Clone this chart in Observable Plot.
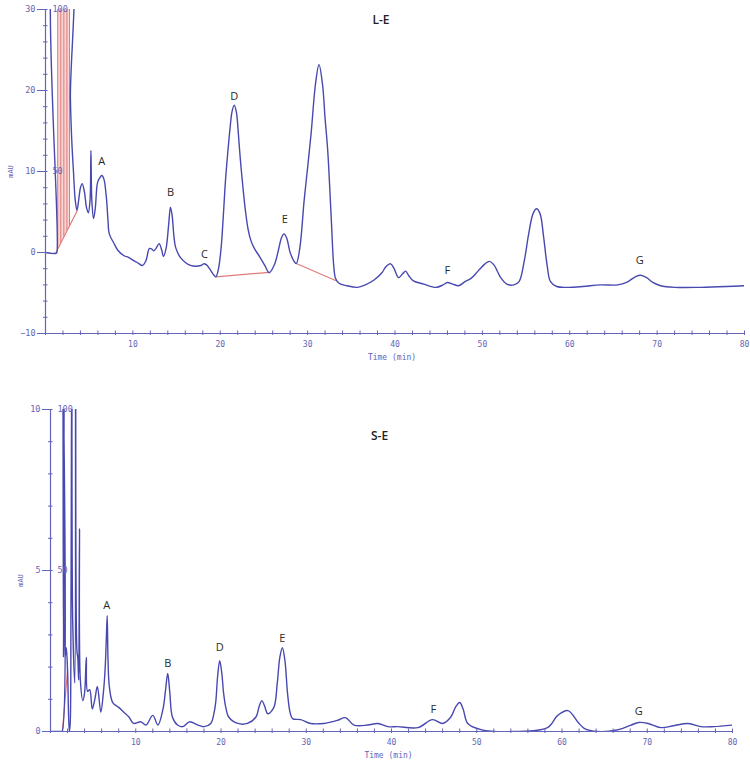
<!DOCTYPE html>
<html><head><meta charset="utf-8">
<script src="https://cdn.jsdelivr.net/npm/d3@7"></script>
<script src="https://cdn.jsdelivr.net/npm/@observablehq/plot@0.6"></script>
<style>body{margin:0;background:#fff}#c svg{display:block}</style>
</head><body><div id="c"></div>
<script>
// ---- L-E chromatogram (top) ----
const timeLE = [0,0.6,1.2,1.3,1.35,2.75,2.85,3.0,3.2,3.4,3.6,3.8,4.0,4.2,4.45,4.7,4.9,5.1,5.2,5.3,5.5,5.7,5.95,6.2,6.45,6.7,6.9,7.0,7.15,7.3,7.8,8.3,9.0,9.5,10.1,10.6,11.1,11.5,11.9,12.2,12.4,12.7,13.0,13.3,13.5,13.8,14.1,14.3,14.5,14.7,14.9,15.5,16.6,17.8,18.1,18.4,18.9,19.2,19.5,19.8,20.1,20.35,20.6,20.85,21.1,21.35,21.6,21.85,22.05,22.3,22.6,22.9,23.2,23.5,23.9,24.5,25.1,25.6,26.2,26.7,27.0,27.3,27.6,28.0,28.4,28.7,29.1,29.6,30.0,30.4,30.9,31.3,31.7,32.0,32.3,32.7,33.0,33.2,33.6,34.5,35.7,36.6,37.6,38.5,39.0,39.5,39.9,40.4,40.9,41.2,41.6,42.1,43.3,44.7,45.5,46.0,46.6,47.3,48.0,48.7,49.5,50.3,50.8,51.3,52.1,52.8,53.6,54.2,54.8,55.3,55.8,56.2,56.6,57.0,57.4,57.8,58.5,59.8,61.5,63.5,65.5,66.5,67.5,68.1,68.8,69.5,70.4,72,75,78,80];
const mauLE = [0,-0.1,-0.1,0,40,40,19,14,10,6.5,5.2,6.5,8,8.5,7.5,5.5,4.9,6.5,12.6,6.5,4.2,5.5,8.6,9.2,9.5,9.0,7.5,6.4,4,2.3,1.2,0.25,-0.4,-0.6,-1.0,-1.3,-1.6,-1.0,0.5,0.4,0.2,0.6,1.1,0.3,-0.5,0.5,3.5,5.6,4.5,2.0,0.6,-0.7,-1.6,-1.6,-1.4,-1.5,-2.2,-2.7,-3.0,-2.0,0.6,4.5,8.9,12.2,15.1,17.4,18.2,17.3,15.0,11.5,8.0,5.0,2.8,1.5,0.5,-0.5,-1.6,-2.5,-1.5,0.5,1.8,2.3,1.8,0,-1.0,-1.35,0.5,6.4,10.5,14.7,20.8,23.2,20.8,16.5,12.6,4.3,-1.8,-3.2,-3.8,-4.1,-4.3,-4.0,-3.4,-2.5,-1.7,-1.4,-2.0,-3.1,-2.6,-2.3,-2.9,-3.5,-3.9,-4.3,-4.0,-3.7,-3.9,-4.1,-3.6,-3.2,-2.3,-1.4,-1.1,-1.5,-3.1,-3.9,-4.0,-3.6,-1.0,2.3,4.8,5.4,4.8,2.0,-1.5,-3.6,-4.2,-4.3,-4.2,-4.0,-4.0,-3.7,-3.0,-2.8,-3.1,-3.7,-4.1,-4.3,-4.3,-4.2,-4.1];
const peakLE = ["A","B","C","D","E","F","G"];
const peakTimeLE = [6.45,14.3,18.2,21.6,27.4,46.0,68.0];
const peakMauLE = [11.2,7.4,-0.25,19.3,4.1,-2.2,-1.0];
// integration baselines [t1, v1, t2, v2]
const baseLE = [[1.2,0,3.6,5.1],[19.5,-3.0,25.6,-2.45],[28.7,-1.35,33.2,-3.45]];
const dropTimeLE = [1.4,1.75,2.1,2.45,2.75];

// ---- S-E chromatogram (bottom) ----
const timeSE = [0,1.2,1.35,1.45,1.52,1.6,1.7,1.85,2.0,2.2,2.3,2.4,2.5,2.6,2.85,2.95,3.1,3.2,3.3,3.4,3.5,3.8,4.0,4.2,4.35,4.6,4.9,5.2,5.5,5.9,6.2,6.4,6.55,6.65,6.75,6.9,7.3,8.0,8.6,9.2,9.75,10.6,11.2,12.0,12.6,13.2,13.5,13.75,14.0,14.3,14.9,15.5,16.3,17.3,18.0,18.8,19.2,19.4,19.6,19.85,20.1,20.3,20.6,20.9,21.96,23.1,24.1,24.5,24.8,25.1,25.5,26.2,26.6,26.9,27.2,27.5,27.8,28.1,28.4,29.35,30.5,32.05,33.7,34.6,35.6,37.2,38.4,39.6,40.7,43.1,44.8,46.0,46.96,47.5,48.0,48.4,48.95,50.5,54.4,58.3,59.5,60.7,61.9,62.6,64.2,66.6,68.1,69.0,70.1,71.6,73.1,74.8,76.3,77.8,80];
const mauSE = [0,0,0,12,2.3,12,2.3,2.6,1.9,0,0.2,3.8,12,3.5,1.5,12,2.5,2.3,1.6,6.3,1.6,0.96,1.2,2.3,1.25,1.3,0.7,1.0,1.4,0.6,1.2,1.9,2.9,3.6,2.2,1.4,0.9,0.75,0.6,0.45,0.25,0.3,0.2,0.5,0.2,0.7,1.3,1.8,1.2,0.45,0.2,0.15,0.3,0.2,0.15,0.25,0.6,0.96,1.7,2.2,1.8,1.2,0.7,0.45,0.25,0.25,0.45,0.8,0.96,0.8,0.55,0.75,1.5,2.3,2.6,2.2,1.2,0.6,0.4,0.37,0.25,0.25,0.35,0.43,0.2,0.2,0.25,0.15,0.15,0.12,0.37,0.25,0.45,0.75,0.9,0.7,0.25,0.06,0.0,0.12,0.5,0.65,0.28,0.1,0.0,0.06,0.2,0.28,0.25,0.12,0.18,0.25,0.15,0.15,0.2];
const peakSE = ["A","B","D","E","F","G"];
const peakTimeSE = [6.6,13.75,19.85,27.2,44.9,69.0];
const peakMauSE = [3.9,2.1,2.6,2.9,0.68,0.62];
const baseSE = [[1.4,0,2.0,1.9]];
const dropTimeSE = [];

const xMajor = [10,20,30,40,50,60,70,80];
const pctLabels = ["100","50"];
const pctValues = [100,50];

const lineColor = "#4848b0";
const axisColor = "#6464b8";
const redColor = "#e07a7a";
const mono = "DejaVu Sans Mono";

function panel(o) {
  const data = o.times.map((t,i)=>({t, v:o.values[i]}));
  const [y0,y1] = o.yDomain;
  const ph = o.height - o.mt - o.mb, pw = o.width - o.ml - o.mr;
  const uy = (y1-y0)/ph, ux = 80/pw;
  const xMinor = d3.range(0,80.01,2);
  const yMinor = d3.range(y0,y1+0.01,o.yMinorStep);
  const baseAt = t => { const b = o.bases[0]; return b[1] + (t-b[0])/(b[2]-b[0])*(b[3]-b[1]); };
  const marks = [];
  if (o.drops.length) {
    const fillData = d3.range(o.drops[0], o.drops[o.drops.length-1]+0.001, 0.05).map(t=>({t, lo: baseAt(t), hi: y1}));
    marks.push(Plot.areaY(fillData, {x:"t", y1:"lo", y2:"hi", fill:"#f4c4c4", fillOpacity:0.7}));
    marks.push(Plot.ruleX(o.drops, {x:d=>d, y1:d=>baseAt(d), y2:y1, stroke:redColor, strokeWidth:1}));
  }
  const segs = o.bases.flatMap((b,i)=>[{t:b[0],v:b[1],k:i},{t:b[2],v:b[3],k:i}]);
  marks.push(Plot.line(segs, {x:"t", y:"v", z:"k", stroke:redColor, strokeWidth:1.2}));
  marks.push(Plot.line(data, {x:"t", y:"v", stroke:lineColor, strokeWidth:1.4, curve:"catmull-rom", clip:true}));
  // axis lines
  marks.push(Plot.ruleX([0], {y1:y0, y2:y1, stroke:axisColor, strokeWidth:1.2}));
  marks.push(Plot.ruleY([y0], {x1:0, x2:80, stroke:axisColor, strokeWidth:1.2}));
  // minor ticks
  marks.push(Plot.ruleX(xMinor, {x:d=>d, y1:y0-2*uy, y2:y0+2.5*uy, stroke:axisColor}));
  marks.push(Plot.ruleY(yMinor, {y:d=>d, x1:-2*ux, x2:2.5*ux, stroke:axisColor}));
  marks.push(Plot.axisX({ticks:xMajor, label:null, tickSize:0, tickPadding:8, fontSize:8, fontFamily:mono, color:axisColor}));
  marks.push(Plot.axisY({ticks:o.yMajor, label:null, tickSize:8, tickPadding:2, fontSize:8.5, fontFamily:mono, color:axisColor}));
  // secondary percent labels
  marks.push(Plot.text(pctLabels, {x:0, y:(d,i)=>y0+pctValues[i]/100*(y1-y0), text:d=>d, dx:7, textAnchor:"start", fontSize:8.5, fontFamily:mono, fill:axisColor}));
  // axis titles
  marks.push(Plot.text(["Time (min)"], {frameAnchor:"bottom", dy:o.timeDy, dx:-3, fontSize:8, fontFamily:mono, fill:axisColor}));
  marks.push(Plot.text(["mAU"], {frameAnchor:"left", dx:o.mauDx, dy:o.mauDy, rotate:-90, textAnchor:"middle", fontSize:7, fontFamily:mono, fill:axisColor}));
  // peak labels
  marks.push(Plot.text(o.peaks, {x:(d,i)=>o.peakTimes[i], y:(d,i)=>o.peakMau[i], text:d=>d, fontSize:11, fontFamily:"Open Sans", fill:"#2a2a2a"}));
  // title
  marks.push(Plot.text([o.title], {frameAnchor:"top", dx:o.titleDx, dy:o.titleDy, fontSize:12, fontWeight:600, fontFamily:"Open Sans", fill:"#222"}));
  return Plot.plot({
    width:o.width, height:o.height,
    marginLeft:o.ml, marginRight:o.mr, marginTop:o.mt, marginBottom:o.mb,
    x:{domain:[0,80]}, y:{domain:o.yDomain},
    style:{background:"#fff", overflow:"visible"},
    marks
  });
}

const c = document.getElementById("c");
c.append(panel({times:timeLE, values:mauLE, yDomain:[-10,30], yMajor:[-10,0,10,20,30], yMinorStep:2,
  width:750, height:375, ml:45, mr:6, mt:9, mb:42, title:"L-E", titleDx:-14, titleDy:6,
  peaks:peakLE, peakTimes:peakTimeLE, peakMau:peakMauLE, bases:baseLE, drops:dropTimeLE,
  timeDy:26, mauDx:-35, mauDy:0}));
c.append(panel({times:timeSE, values:mauSE, yDomain:[0,10], yMajor:[0,5,10], yMinorStep:1,
  width:750, height:388, ml:50, mr:18, mt:34, mb:32, title:"S-E", titleDx:-12, titleDy:22,
  peaks:peakSE, peakTimes:peakTimeSE, peakMau:peakMauSE, bases:baseSE, drops:dropTimeSE,
  timeDy:26, mauDx:-30, mauDy:10}));
</script></body></html>
